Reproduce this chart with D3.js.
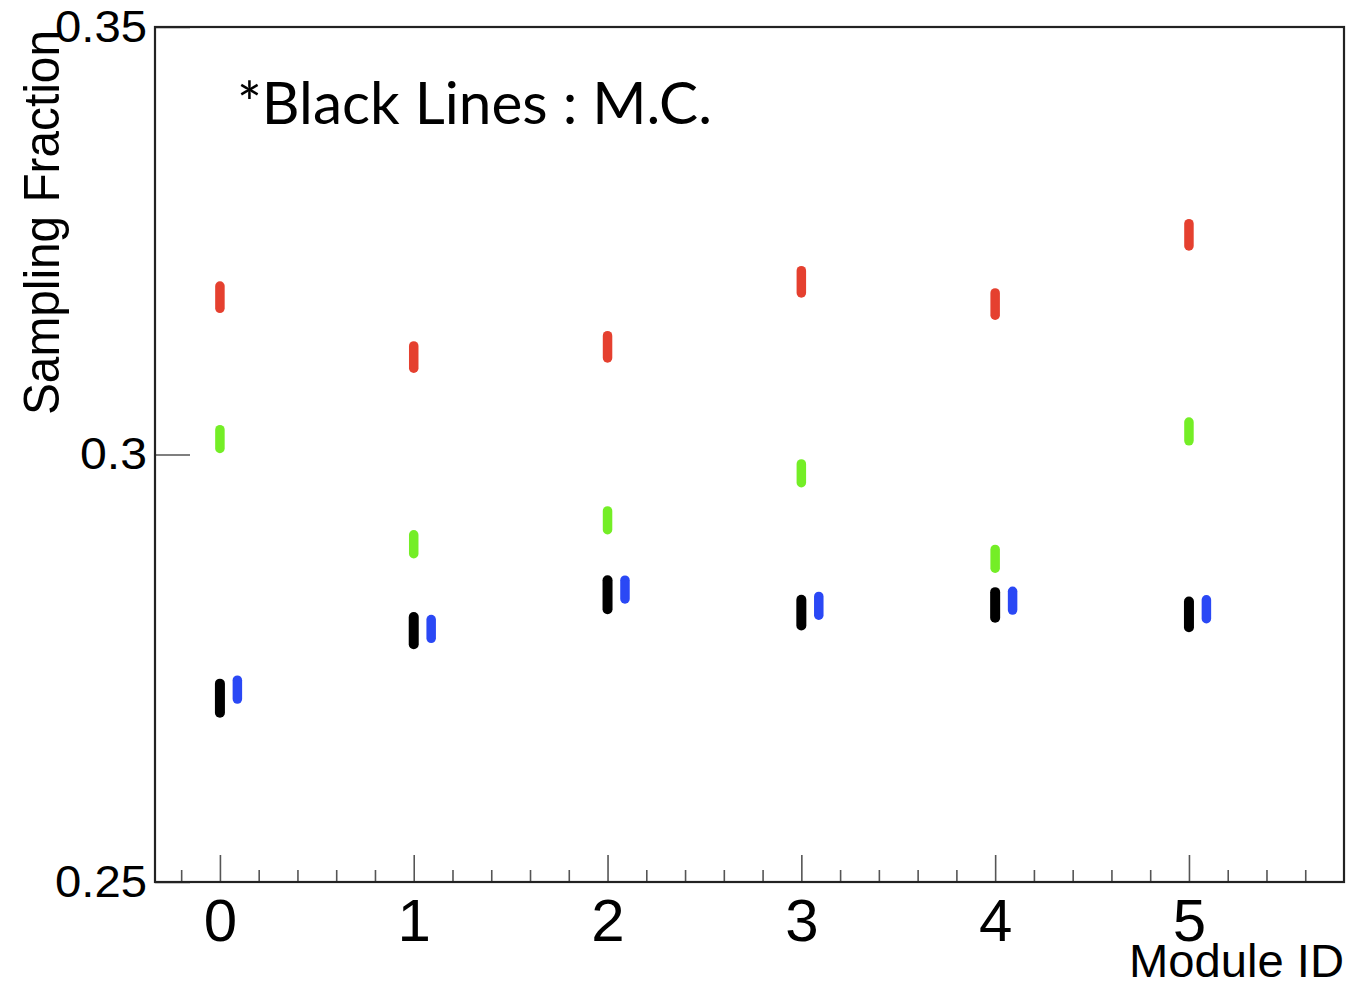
<!DOCTYPE html>
<html>
<head>
<meta charset="utf-8">
<script src="https://cdn.jsdelivr.net/npm/d3@7"></script>
<style>
  html, body { margin: 0; padding: 0; background: #fff; }
  svg { display: block; }
</style>
</head>
<body>
<svg id="chart" width="1350" height="983"></svg>
<script>
// Sampling fraction per calorimeter module
const modules = [0, 1, 2, 3, 4, 5];
const redValues   = [0.3184, 0.3114, 0.3126, 0.3202, 0.3176, 0.3257];
const redErrors   = [0.0013, 0.0013, 0.0013, 0.0013, 0.0013, 0.0013];
const greenValues = [0.3018, 0.2895, 0.2923, 0.2978, 0.2878, 0.3027];
const greenErrors = [0.0011, 0.0011, 0.0011, 0.0011, 0.0011, 0.0011];
const blueValues  = [0.2725, 0.2796, 0.2842, 0.2823, 0.2829, 0.2819];
const blueErrors  = [0.0011, 0.0011, 0.0011, 0.0011, 0.0011, 0.0011];
const mcValues    = [0.2715, 0.2794, 0.2836, 0.2815, 0.2824, 0.2813];
const mcErrors    = [0.0017, 0.0016, 0.0017, 0.0015, 0.0015, 0.0015];
const blueShift = 0.09;

const xTicks = [0, 1, 2, 3, 4, 5];
const yTicks = [0.25, 0.3, 0.35];
const yTickLabels = ["0.25", "0.3", "0.35"];

const svg = d3.select("#chart");
const frameLeft = 155, frameRight = 1344, frameTop = 27, frameBottom = 882;

const x = d3.scaleLinear().domain([-0.335, 5.8]).range([frameLeft, frameRight]);
const y = d3.scaleLinear().domain([0.25, 0.35]).range([frameBottom, frameTop]);

// minor x ticks every 0.2
const minorTicks = d3.range(-0.2, 5.79, 0.2).filter(v => Math.abs(v - Math.round(v)) > 1e-6);

const minorAxis = svg.append("g")
  .attr("transform", `translate(0,${frameBottom})`)
  .call(d3.axisBottom(x).tickValues(minorTicks).tickSize(-12).tickSizeOuter(0).tickFormat(""));
minorAxis.select(".domain").remove();
minorAxis.selectAll("line").attr("stroke", "#555").attr("stroke-width", 1.6);

const xAxis = svg.append("g")
  .attr("transform", `translate(0,${frameBottom})`)
  .call(d3.axisBottom(x).tickValues(xTicks).tickSize(-27).tickSizeOuter(0).tickPadding(16).tickFormat(d3.format("d")));
xAxis.select(".domain").remove();
xAxis.selectAll("line").attr("stroke", "#555").attr("stroke-width", 1.6);
xAxis.selectAll("text")
  .attr("font-family", "Liberation Sans, Arial, sans-serif")
  .attr("font-size", 60)
  .attr("fill", "#000");

const yAxis = svg.append("g")
  .attr("transform", `translate(${frameLeft},0)`)
  .call(d3.axisLeft(y).tickValues(yTicks).tickSize(-35).tickSizeOuter(0).tickPadding(8)
    .tickFormat((d, i) => yTickLabels[i]));
yAxis.select(".domain").remove();
yAxis.selectAll("line").attr("stroke", "#555").attr("stroke-width", 1.6);
yAxis.selectAll("text")
  .attr("font-family", "Liberation Sans, Arial, sans-serif")
  .attr("font-size", 45)
  .attr("fill", "#000")
  .attr("textLength", (d, i) => yTickLabels[i].length === 3 ? 67 : 92)
  .attr("lengthAdjust", "spacingAndGlyphs");

// frame
svg.append("rect")
  .attr("x", frameLeft).attr("y", frameTop)
  .attr("width", frameRight - frameLeft).attr("height", frameBottom - frameTop)
  .attr("fill", "none")
  .attr("stroke", "#222")
  .attr("stroke-width", 2.2);

// error-bar marks
const series = [
  { values: redValues,   errors: redErrors,   shift: 0,         color: "#e5402f", width: 9.5 },
  { values: greenValues, errors: greenErrors, shift: 0,         color: "#74ee26", width: 9.5 },
  { values: mcValues,    errors: mcErrors,    shift: 0,         color: "#000000", width: 10 },
  { values: blueValues,  errors: blueErrors,  shift: blueShift, color: "#2a48f5", width: 9.5 }
];

const marks = svg.append("g");
series.forEach(s => {
  marks.append("g").selectAll("line")
    .data(modules.map((m, i) => ({ m, v: s.values[i], e: s.errors[i] })))
    .join("line")
    .attr("x1", d => x(d.m + s.shift))
    .attr("x2", d => x(d.m + s.shift))
    .attr("y1", d => y(d.v - d.e))
    .attr("y2", d => y(d.v + d.e))
    .attr("stroke", s.color)
    .attr("stroke-width", s.width)
    .attr("stroke-linecap", "round");
});

// axis titles
svg.append("text")
  .attr("x", frameRight).attr("y", 977)
  .attr("text-anchor", "end")
  .attr("font-family", "Liberation Sans, Arial, sans-serif")
  .attr("font-size", 46)
  .attr("fill", "#000")
  .attr("textLength", 215)
  .attr("lengthAdjust", "spacingAndGlyphs")
  .text("Module ID");

svg.append("text")
  .attr("transform", "translate(59,30) rotate(-90)")
  .attr("text-anchor", "end")
  .attr("font-family", "Liberation Sans, Arial, sans-serif")
  .attr("font-size", 50)
  .attr("fill", "#000")
  .attr("textLength", 385)
  .attr("lengthAdjust", "spacingAndGlyphs")
  .text("Sampling Fraction");

// annotation
svg.append("text")
  .attr("x", 237).attr("y", 124)
  .attr("font-family", "Lato, 'Open Sans', sans-serif")
  .attr("font-size", 58)
  .attr("fill", "#000")
  .attr("textLength", 475)
  .attr("lengthAdjust", "spacingAndGlyphs")
  .text("*Black Lines : M.C.");
</script>
</body>
</html>
